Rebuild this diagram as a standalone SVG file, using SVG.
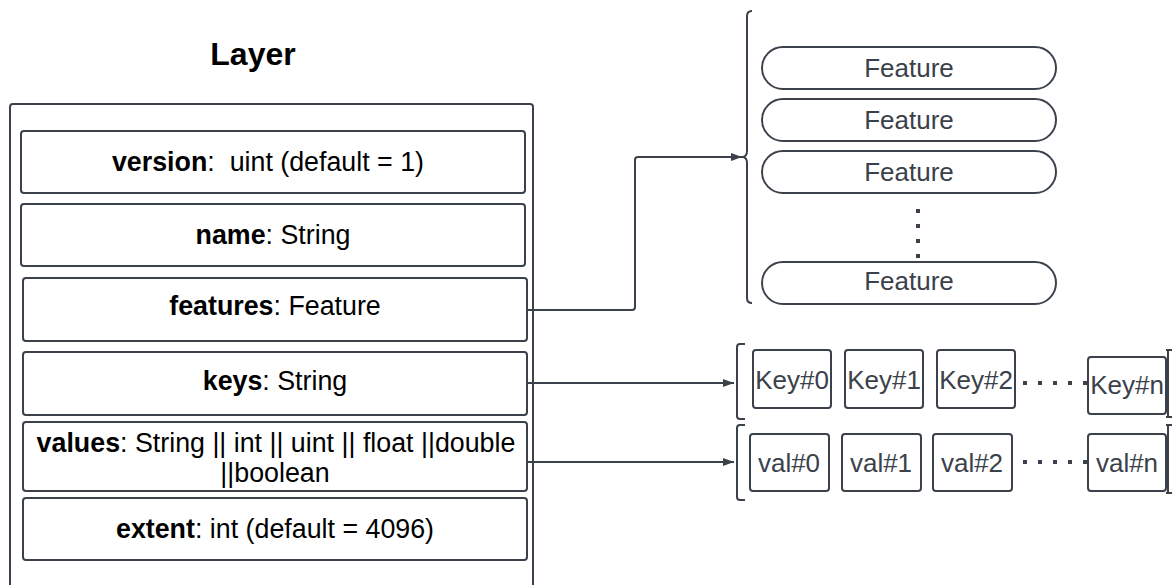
<svg xmlns="http://www.w3.org/2000/svg" width="1172" height="585" viewBox="0 0 1172 585">
  <defs>
    <style>
      .box { fill: #ffffff; stroke: #3a414a; stroke-width: 2; }
      .line { fill: none; stroke: #3a414a; stroke-width: 2; }
      .dots { fill: none; stroke: #3a414a; stroke-width: 4; stroke-dasharray: 4 11; }
      .lbl { font-family: "Liberation Sans", Arial, sans-serif; font-size: 26.8px; fill: #000000; text-anchor: middle; }
      .item { font-family: "Liberation Sans", Arial, sans-serif; font-size: 26px; fill: #3a414a; text-anchor: middle; }
      .title { font-family: "Liberation Sans", Arial, sans-serif; font-size: 32px; font-weight: bold; fill: #000000; text-anchor: middle; }
      .b { font-weight: bold; }
    </style>
    <marker id="arrow" markerWidth="12" markerHeight="10" refX="11" refY="5" orient="auto" markerUnits="userSpaceOnUse">
      <path d="M0,1 L11,5 L0,9 Z" fill="#3a414a"/>
    </marker>
  </defs>

  <rect width="1172" height="585" fill="#ffffff"/>

  <!-- Layer container -->
  <g id="layer">
    <text class="title" x="253" y="65">Layer</text>
    <rect class="box" x="10" y="104" width="523" height="500" rx="3"/>
  </g>

  <g id="field-version">
    <rect class="box" x="21" y="131" width="504" height="62" rx="3"/>
    <text class="lbl" x="268" y="171" xml:space="preserve"><tspan class="b">version</tspan>:  uint (default = 1)</text>
  </g>
  <g id="field-name">
    <rect class="box" x="21" y="204" width="504" height="62" rx="3"/>
    <text class="lbl" x="273" y="244"><tspan class="b">name</tspan>: String</text>
  </g>
  <g id="field-features">
    <rect class="box" x="23" y="278" width="504" height="63" rx="3"/>
    <text class="lbl" x="275" y="315"><tspan class="b">features</tspan>: Feature</text>
  </g>
  <g id="field-keys">
    <rect class="box" x="23" y="352" width="504" height="63" rx="3"/>
    <text class="lbl" x="275" y="390"><tspan class="b">keys</tspan>: String</text>
  </g>
  <g id="field-values">
    <rect class="box" x="23" y="422" width="504" height="69" rx="3"/>
    <text class="lbl" x="276" y="452"><tspan class="b">values</tspan>: String || int || uint || float ||double</text>
    <text class="lbl" x="275" y="482">||boolean</text>
  </g>
  <g id="field-extent">
    <rect class="box" x="23" y="498" width="504" height="62" rx="3"/>
    <text class="lbl" x="275" y="538"><tspan class="b">extent</tspan>: int (default = 4096)</text>
  </g>

  <!-- Feature list -->
  <g id="feature-list">
    <path class="line" d="M752,11 Q747,11 747,16 L747,151 Q747,157 742,157 Q747,157 747,163 L747,298 Q747,303 752,303"/>
    <g id="feature-0">
      <rect class="box" x="762" y="47" width="294" height="42" rx="21"/>
      <text class="item" x="909" y="77">Feature</text>
    </g>
    <g id="feature-1">
      <rect class="box" x="762" y="99" width="294" height="42" rx="21"/>
      <text class="item" x="909" y="129">Feature</text>
    </g>
    <g id="feature-2">
      <rect class="box" x="762" y="151" width="294" height="42" rx="21"/>
      <text class="item" x="909" y="181">Feature</text>
    </g>
    <line class="dots" x1="918" y1="209" x2="918" y2="262"/>
    <g id="feature-n">
      <rect class="box" x="762" y="262" width="294" height="42" rx="21"/>
      <text class="item" x="909" y="290">Feature</text>
    </g>
  </g>

  <!-- Keys array -->
  <g id="key-list">
    <path class="line" d="M745,344 L740,344 Q737,344 737,347 L737,416 Q737,419 740,419 L745,419"/>
    <path class="line" d="M1166,350 L1172,350 M1168,350 L1168,417 M1166,417 L1172,417"/>
    <g id="key-0">
      <rect class="box" x="753" y="350" width="78" height="58" rx="3"/>
      <text class="item" x="792" y="389">Key#0</text>
    </g>
    <g id="key-1">
      <rect class="box" x="845" y="350" width="78" height="58" rx="3"/>
      <text class="item" x="884" y="389">Key#1</text>
    </g>
    <g id="key-2">
      <rect class="box" x="937" y="350" width="78" height="58" rx="3"/>
      <text class="item" x="976" y="389">Key#2</text>
    </g>
    <line class="dots" x1="1023" y1="383" x2="1088" y2="383"/>
    <g id="key-n">
      <rect class="box" x="1088" y="357" width="78" height="57" rx="3"/>
      <text class="item" x="1127" y="394">Key#n</text>
    </g>
  </g>

  <!-- Values array -->
  <g id="value-list">
    <path class="line" d="M745,425 L740,425 Q737,425 737,428 L737,497 Q737,500 740,500 L745,500"/>
    <path class="line" d="M1166,425 L1172,425 M1168,425 L1168,493 M1166,493 L1172,493"/>
    <g id="val-0">
      <rect class="box" x="750" y="434" width="79" height="57" rx="3"/>
      <text class="item" x="789" y="472">val#0</text>
    </g>
    <g id="val-1">
      <rect class="box" x="842" y="434" width="79" height="57" rx="3"/>
      <text class="item" x="881" y="472">val#1</text>
    </g>
    <g id="val-2">
      <rect class="box" x="933" y="434" width="79" height="57" rx="3"/>
      <text class="item" x="972" y="472">val#2</text>
    </g>
    <line class="dots" x1="1023" y1="462" x2="1088" y2="462"/>
    <g id="val-n">
      <rect class="box" x="1088" y="434" width="78" height="57" rx="3"/>
      <text class="item" x="1127" y="472">val#n</text>
    </g>
  </g>

  <!-- Connectors -->
  <g id="connectors">
    <path class="line" d="M527,310 L632,310 Q635,310 635,307 L635,160 Q635,157 638,157 L742,157" marker-end="url(#arrow)"/>
    <path class="line" d="M527,383 L734,383" marker-end="url(#arrow)"/>
    <path class="line" d="M527,462 L734,462" marker-end="url(#arrow)"/>
  </g>
</svg>
